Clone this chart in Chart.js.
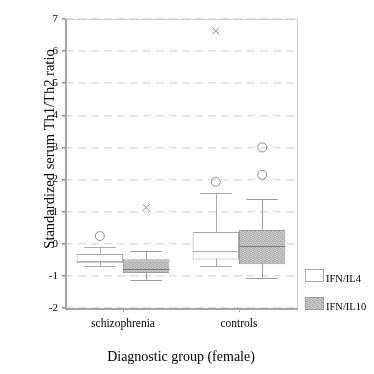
<!DOCTYPE html>
<html>
<head>
<meta charset="utf-8">
<script src="https://cdn.jsdelivr.net/npm/chart.js@4/dist/chart.umd.min.js"></script>
<style>
  html,body{margin:0;padding:0;background:#fff;}
  #wrap{width:374px;height:374px;position:relative;}
</style>
</head>
<body>
<div id="wrap"><canvas id="c"></canvas></div>
<script>
// ── Data ──
const GROUPS = ['schizophrenia', 'controls'];
const SERIES = ['IFN/IL4', 'IFN/IL10'];

const IL4_MIN = [-0.70, -0.70];
const IL4_Q1  = [-0.61, -0.49];
const IL4_MED = [-0.53, -0.22];
const IL4_Q3  = [-0.32,  0.37];
const IL4_MAX = [-0.09,  1.58];
const IL4_OUT = [[0.24], [1.93]];   // circles
const IL4_EXT = [[], [6.63]];       // crosses

const IL10_MIN = [-1.12, -1.08];
const IL10_Q1  = [-0.91, -0.64];
const IL10_MED = [-0.77, -0.08];
const IL10_Q3  = [-0.48,  0.43];
const IL10_MAX = [-0.21,  1.39];
const IL10_OUT = [[], [3.00, 2.15]];
const IL10_EXT = [[1.13], []];

const Y_MIN = -2, Y_MAX = 7, Y_STEP = 1;

const SERIF = "'Liberation Serif','DejaVu Serif',serif";

// textured gray fill for IFN/IL10
function grayPattern(){
  const p = document.createElement('canvas');
  p.width = 4; p.height = 4;
  const g = p.getContext('2d');
  g.fillStyle = '#bfbfbf'; g.fillRect(0,0,4,4);
  g.fillStyle = '#adadad';
  g.fillRect(0,0,1,1); g.fillRect(2,1,1,1); g.fillRect(1,2,1,1); g.fillRect(3,3,1,1);
  g.fillStyle = '#cdcdcd';
  g.fillRect(2,0,1,1); g.fillRect(0,3,1,1); g.fillRect(3,2,1,1);
  return document.createElement('canvas').getContext('2d').createPattern(p, 'repeat');
}
const PAT = grayPattern();

const STATS = [
  {min:IL4_MIN, med:IL4_MED, max:IL4_MAX, out:IL4_OUT, ext:IL4_EXT, line:'#a8a8a8', medc:'#b0b0b0'},
  {min:IL10_MIN, med:IL10_MED, max:IL10_MAX, out:IL10_OUT, ext:IL10_EXT, line:'#9a9a9a', medc:'#7a7a7a'}
];

// ── whiskers, medians, outliers, frame, titles, legend ──
const boxExtras = {
  id: 'boxExtras',
  beforeDatasetsDraw(chart){
    const {ctx, scales:{y}} = chart;
    ctx.save();
    ctx.lineWidth = 1;
    // whisker stems behind the boxes
    chart.data.datasets.forEach((ds, di) => {
      const st = STATS[di];
      chart.getDatasetMeta(di).data.forEach((el, j) => {
        const x = Math.round(el.x) + 0.5;
        ctx.strokeStyle = st.line;
        ctx.beginPath();
        ctx.moveTo(x, y.getPixelForValue(st.max[j])); ctx.lineTo(x, y.getPixelForValue(st.min[j]));
        ctx.stroke();
      });
    });
    ctx.restore();
  },
  afterDatasetsDraw(chart){
    const {ctx, scales:{y}} = chart;
    const a = chart.chartArea;
    ctx.save();
    chart.data.datasets.forEach((ds, di) => {
      const st = STATS[di];
      chart.getDatasetMeta(di).data.forEach((el, j) => {
        const x = el.x, w = el.width, cap = w * 0.34;
        ctx.lineWidth = 1;
        ctx.strokeStyle = st.line;
        [st.max[j], st.min[j]].forEach(v => {
          const py = Math.round(y.getPixelForValue(v)) + 0.5;
          ctx.beginPath(); ctx.moveTo(x - cap, py); ctx.lineTo(x + cap, py); ctx.stroke();
        });
        const my = Math.round(y.getPixelForValue(st.med[j])) + 0.5;
        ctx.strokeStyle = st.medc;
        ctx.beginPath(); ctx.moveTo(x - w/2, my); ctx.lineTo(x + w/2, my); ctx.stroke();
        // outliers (circles)
        ctx.strokeStyle = '#8c8c8c';
        st.out[j].forEach(v => {
          ctx.beginPath(); ctx.arc(x, y.getPixelForValue(v), 4.5, 0, Math.PI*2); ctx.stroke();
        });
        // extremes (crosses)
        st.ext[j].forEach(v => {
          const py = y.getPixelForValue(v), s = 3.5;
          ctx.beginPath();
          ctx.moveTo(x - s, py - s); ctx.lineTo(x + s, py + s);
          ctx.moveTo(x + s, py - s); ctx.lineTo(x - s, py + s);
          ctx.stroke();
        });
      });
    });
    // frame
    ctx.strokeStyle = '#cfcfcf';
    ctx.lineWidth = 1;
    ctx.beginPath();
    ctx.moveTo(a.left, a.top + 0.5); ctx.lineTo(a.right + 0.5, a.top + 0.5); ctx.lineTo(a.right + 0.5, a.bottom);
    ctx.stroke();
    ctx.strokeStyle = '#a6a6a6';
    ctx.lineWidth = 2;
    ctx.beginPath();
    ctx.moveTo(a.left + 1, a.top); ctx.lineTo(a.left + 1, a.bottom + 1); ctx.lineTo(a.right + 1, a.bottom + 1);
    ctx.stroke();
    ctx.lineWidth = 1;
    // x category tick stubs
    chart.scales.x.ticks.forEach((t, i) => {
      const px = Math.round(chart.scales.x.getPixelForTick(i)) + 0.5;
      ctx.beginPath(); ctx.moveTo(px, a.bottom); ctx.lineTo(px, a.bottom + 4); ctx.stroke();
    });

    // axis titles
    ctx.fillStyle = '#000';
    ctx.font = '14.5px ' + SERIF;
    ctx.textAlign = 'center'; ctx.textBaseline = 'middle';
    ctx.save();
    ctx.translate(50, 149);
    ctx.rotate(-Math.PI/2);
    ctx.fillText('Standardized serum Th1/Th2 ratio', 0, 0);
    ctx.restore();
    ctx.font = '14px ' + SERIF;
    ctx.fillText('Diagnostic group (female)', 181, 357);

    // legend
    ctx.font = '10.5px ' + SERIF;
    ctx.textAlign = 'left';
    const leg = [{y:269, fill:'#ffffff', stroke:'#a8a8a8'}, {y:297, fill:PAT, stroke:'#9a9a9a'}];
    chart.data.datasets.forEach((ds, i) => {
      const L = leg[i];
      ctx.fillStyle = L.fill;
      ctx.fillRect(305, L.y, 19, 13);
      ctx.strokeStyle = L.stroke;
      ctx.strokeRect(305.5, L.y + 0.5, 18, 12);
      ctx.fillStyle = '#000';
      ctx.fillText(ds.label, 326, L.y + 10);
    });
    ctx.restore();
  }
};

new Chart(document.getElementById('c'), {
  type: 'bar',
  data: {
    labels: GROUPS,
    datasets: [
      {label: SERIES[0], data: GROUPS.map((_, i) => [IL4_Q1[i], IL4_Q3[i]]),
       backgroundColor: '#ffffff', borderColor: '#a8a8a8', borderWidth: 1, borderSkipped: false},
      {label: SERIES[1], data: GROUPS.map((_, i) => [IL10_Q1[i], IL10_Q3[i]]),
       backgroundColor: PAT, borderColor: '#9a9a9a', borderWidth: 1, borderSkipped: false}
    ]
  },
  options: {
    responsive: true,
    maintainAspectRatio: false,
    animation: false,
    categoryPercentage: 0.8,
    barPercentage: 1.0,
    layout: {padding: {top: 19, right: 77, left: 0, bottom: 0}},
    plugins: {legend: {display: false}, tooltip: {enabled: false}},
    scales: {
      x: {
        grid: {display: false, drawTicks: false},
        border: {display: false},
        ticks: {color: '#000', font: {family: SERIF, size: 11.5}, padding: 9},
        afterFit(s){ s.height = 66; }
      },
      y: {
        min: Y_MIN, max: Y_MAX,
        grid: {color: '#dedede', lineWidth: 1.5, drawTicks: true, tickLength: 3, tickColor: '#888'},
        border: {display: false, dash: [8, 5]},
        ticks: {stepSize: Y_STEP, color: '#000', font: {family: SERIF, size: 11}, padding: 4},
        afterFit(s){ s.width = 65; }
      }
    }
  },
  plugins: [boxExtras]
});
</script>
</body>
</html>
